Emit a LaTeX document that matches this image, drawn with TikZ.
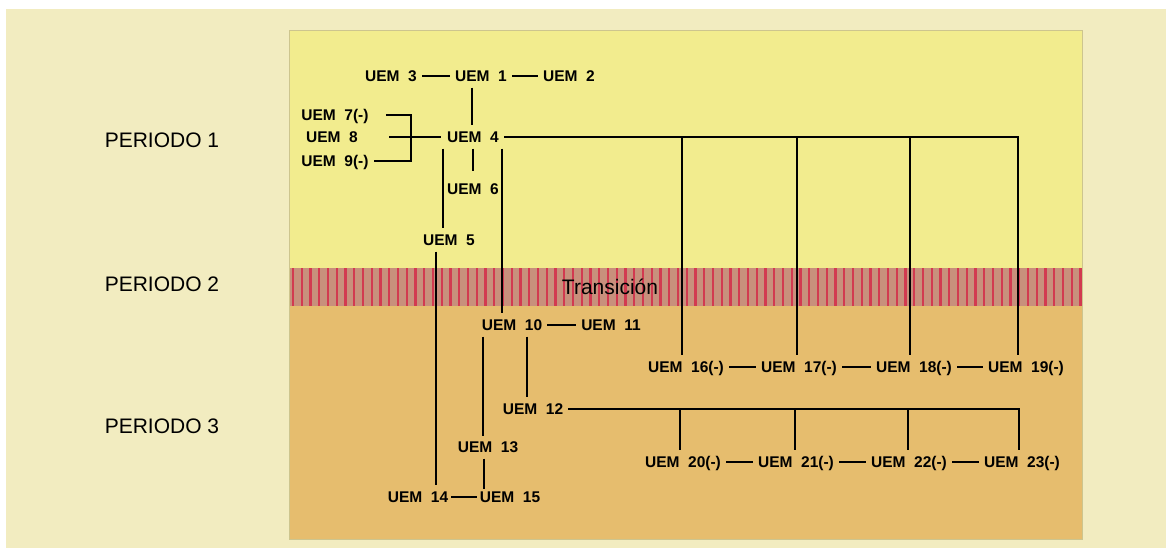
\documentclass[tikz,border=0pt]{standalone}
\usepackage{fontspec}
\setmainfont{Liberation Sans}
\definecolor{cream}{HTML}{F2ECC0}
\definecolor{yel}{HTML}{F2EC8E}
\definecolor{ora}{HTML}{E6BD6E}
\definecolor{bandcol}{HTML}{C8907C}
\definecolor{stripecol}{HTML}{D23A50}
\definecolor{boxline}{HTML}{CDC58E}
\begin{document}
\begin{tikzpicture}[x=1pt,y=-1pt,
  uem/.style={font=\bfseries\fontsize{15.5}{15.5}\selectfont, inner xsep=5pt, inner ysep=6pt, text height=11pt, text depth=0pt},
  per/.style={font=\fontsize{21}{21}\selectfont, inner sep=0pt},
  conn/.style={line width=1.7pt, draw=black},
  stripe/.style={line width=2.2pt, draw=stripecol}]
\useasboundingbox (0,0) rectangle (1166,548);
\fill[white] (0,0) rectangle (1166,548);
\fill[cream] (6,9) rectangle (1166,548);
% inner panel
\fill[yel] (289,31) rectangle (1082,268);
\fill[ora] (289,306) rectangle (1082,539);
\fill[bandcol] (289,268) rectangle (1082,306);
\begin{scope}
\clip (289,268) rectangle (1082,306);
\foreach \i in {0,...,90} \draw[stripe] (293+\i*8.75,268) -- ++(0,38);
\end{scope}
\draw[boxline, line width=1pt] (289,31) rectangle (1082,539);

% period labels
\node[per] (p1) at (162,140) {PERIODO 1};
\node[per] (p2) at (162,284) {PERIODO 2};
\node[per] (p3) at (162,426) {PERIODO 3};
\node[per, text=black] (tr) at (610,287) {Transición};

% nodes
\node[uem] (u3) at (391,76) {UEM~~3};
\node[uem] (u1) at (481,76) {UEM~~1};
\node[uem] (u2) at (569,76) {UEM~~2};
\node[uem] (u4) at (473,137) {UEM~~4};
\node[uem] (u7) at (335,115) {UEM~~7(-)};
\node[uem] (u8) at (332,137) {UEM~~8};
\node[uem] (u9) at (335,161) {UEM~~9(-)};
\node[uem] (u6) at (473,189) {UEM~~6};
\node[uem] (u5) at (449,240) {UEM~~5};
\node[uem] (u10) at (512,325) {UEM~~10};
\node[uem] (u11) at (611,325) {UEM~~11};
\node[uem] (u12) at (533,409) {UEM~~12};
\node[uem] (u13) at (488,447) {UEM~~13};
\node[uem] (u14) at (418,497) {UEM~~14};
\node[uem] (u15) at (510,497) {UEM~~15};
\node[uem] (u16) at (686,367) {UEM~~16(-)};
\node[uem] (u17) at (799,367) {UEM~~17(-)};
\node[uem] (u18) at (914,367) {UEM~~18(-)};
\node[uem] (u19) at (1026,367) {UEM~~19(-)};
\node[uem] (u20) at (683,462) {UEM~~20(-)};
\node[uem] (u21) at (796,462) {UEM~~21(-)};
\node[uem] (u22) at (909,462) {UEM~~22(-)};
\node[uem] (u23) at (1022,462) {UEM~~23(-)};

% branch coordinates
\coordinate (x1) at (472,0);
\coordinate (x5) at (443,0);
\coordinate (x6) at (473,0);
\coordinate (x10) at (502,0);
\coordinate (x14) at (436,0);
\coordinate (x13) at (483,0);
\coordinate (x12) at (527,0);
\coordinate (x15) at (484,0);
\coordinate (br) at (411,137);
\coordinate (c16) at (682,137);
\coordinate (c17) at (797,137);
\coordinate (c18) at (910,137);
\coordinate (c19) at (1018,137);
\coordinate (c20) at (680,409);
\coordinate (c21) at (795,409);
\coordinate (c22) at (908,409);
\coordinate (c23) at (1019,409);

% connectors top
\draw[conn] (u3) -- (u1);
\draw[conn] (u1) -- (u2);
\draw[conn] (u1.south -| x1) -- (u4.north -| x1);
\draw[conn, shorten <=12pt] (u7.east) -| (br) |- (u9.east);
\draw[conn, shorten <=26pt, shorten >=1pt] (u8.east) -- (u4.west);
\draw[conn, shorten >=6pt] (u4.south -| x6) -- (u6.north -| x6);
\draw[conn] (u4.south -| x5) -- (u5.north -| x5);
\draw[conn] (u5.south -| x14) -- (u14.north -| x14);
\draw[conn] (u4.south -| x10) -- (u10.north -| x10);
\draw[conn] (u4.east) -- (c19) -- (u19.north -| c19);
\draw[conn] (c16) -- (u16.north -| c16);
\draw[conn] (c17) -- (u17.north -| c17);
\draw[conn] (c18) -- (u18.north -| c18);
% period 3
\draw[conn] (u10) -- (u11);
\draw[conn, shorten >=-1pt] (u10.south -| x13) -- (u13.north -| x13);
\draw[conn] (u10.south -| x12) -- (u12.north -| x12);
\draw[conn, shorten >=-4pt] (u13.south -| x15) -- (u15.north -| x15);
\draw[conn, shorten <=-2pt, shorten >=-2pt] (u14) -- (u15);
\draw[conn] (u16) -- (u17);
\draw[conn] (u17) -- (u18);
\draw[conn] (u18) -- (u19);
\draw[conn] (u12.east) -- (c23) -- (u23.north -| c23);
\draw[conn] (c20) -- (u20.north -| c20);
\draw[conn] (c21) -- (u21.north -| c21);
\draw[conn] (c22) -- (u22.north -| c22);
\draw[conn] (u20) -- (u21);
\draw[conn] (u21) -- (u22);
\draw[conn] (u22) -- (u23);
\end{tikzpicture}
\end{document}
